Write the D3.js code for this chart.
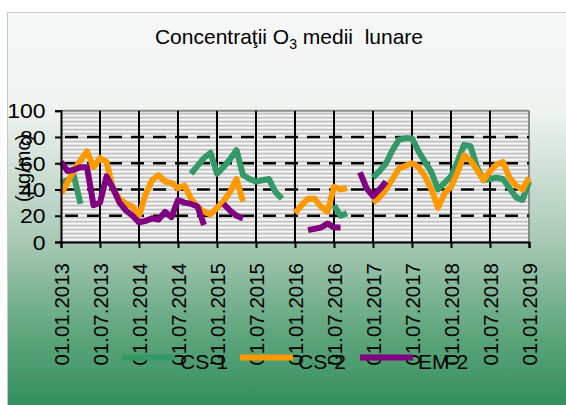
<!DOCTYPE html>
<html><head><meta charset="utf-8">
<script src="https://cdn.jsdelivr.net/npm/d3@7/dist/d3.min.js"></script>
<style>
html,body{margin:0;padding:0;background:#fff;}
svg{display:block;font-family:Arial,"Liberation Sans",sans-serif;}
</style></head>
<body>
<svg id="c" width="566" height="405"></svg>
<script>
// ---------------- data ----------------
const startMonth = new Date(2013, 0, 1);
const endMonth = new Date(2019, 0, 1);
const seriesNames = ["CS-1", "CS-2", "EM-2"];
const seriesColors = ["#339966", "#FF9900", "#800080"];
const _ = null;
// monthly values, Jan 2013 .. Jan 2019 (73 months)
const cs1 = [45,47,50,29,_,_,_,_,_,_,_,_,
             _,_,_,_,_,_,_,_,52,58,64,68,
             52,57,63,70,51,48,46,47,48,38,33,_,
             _,_,_,_,_,_,28,20,22,_,_,_,
             49,54,60,70,78,79,79,69,61,53,40,45,
             50,61,74,73,57,47,48,49,48,41,34,32,
             46];
const cs2 = [37,45,55,62,69,57,64,61,40,33,29,27,
             20,36,47,51,46,45,41,43,33,27,23,21,
             26,31,38,48,31,_,_,_,_,_,_,_,
             22,28,33,33,27,23,42,40,41,_,_,_,
             30,34,40,48,56,58,60,57,50,40,26,37,
             42,53,66,62,55,47,54,59,61,49,43,40,
             49];
const em2 = [61,54,55,57,57,28,30,50,41,30,24,20,
             15,16,18,17,23,19,32,30,29,27,13,_,
             _,29,24,20,18,_,_,_,_,_,_,_,
             _,_,9,10,11,14,11,11,_,_,53,41,
             35,40,46,_,_,_,_,_,_,_,_,_,
             _,_,_,_,_,_,_,_,_,_,_,_,
             _];
const yTicks = [0, 20, 40, 60, 80, 100];
const xTickLabels = ["01.01.2013","01.07.2013","01.01.2014","01.07.2014","01.01.2015","01.07.2015",
  "01.01.2016","01.07.2016","01.01.2017","01.07.2017","01.01.2018","01.07.2018","01.01.2019"];
const titleMain = "Concentraţii O";
const titleSub = "3";
const titleRest = " medii  lunare";
const yTitle = "(µg/mc)";

// ---------------- layout ----------------
const svg = d3.select("#c");
const months = d3.timeMonth.range(startMonth, d3.timeMonth.offset(endMonth, 1));
const fmt = d3.timeFormat("%d.%m.%Y");
const x = d3.scalePoint().domain(months.map(fmt)).range([61, 529]);
const y = d3.scaleLinear().domain([0, 100]).range([242, 110.7]);

const defs = svg.append("defs");
const bg = defs.append("linearGradient").attr("id","bg").attr("x1",0).attr("y1",0).attr("x2",0).attr("y2",1);
[["0%","#f7f8f8"],["25%","#eef3f0"],["57%","#a9c9b5"],["80%","#5fa67d"],["100%","#2f8d5a"]]
  .forEach(s => bg.append("stop").attr("offset", s[0]).attr("stop-color", s[1]));
const pat = defs.append("pattern").attr("id","stripes").attr("patternUnits","userSpaceOnUse")
  .attr("width",8).attr("height",4).attr("y",110.7);
pat.append("rect").attr("width",8).attr("height",4).attr("fill","#e2e2e2");
pat.append("rect").attr("width",8).attr("height",1.6).attr("fill","#ffffff");
pat.append("rect").attr("y",2.2).attr("width",8).attr("height",1.6).attr("fill","#bdbdbd");

// chart area
svg.append("rect").attr("x",7.5).attr("y",12.5).attr("width",570).attr("height",400)
  .attr("fill","url(#bg)").attr("stroke","#c8c8c8").attr("stroke-width",1);

// plot area
const [y0, y1] = y.range();
svg.append("rect").attr("x",61).attr("y",y1).attr("width",468).attr("height",y0-y1).attr("fill","url(#stripes)");
svg.append("line").attr("x1",61).attr("x2",529).attr("y1",y1).attr("y2",y1).attr("stroke","#8a8a8a").attr("stroke-width",2);
svg.append("line").attr("x1",529).attr("x2",529).attr("y1",y1).attr("y2",y0).attr("stroke","#8a8a8a").attr("stroke-width",2);

// gridlines
const xTickVals = xTickLabels;
svg.append("g").selectAll("line").data(xTickVals.slice(1, -1)).join("line")
  .attr("x1", d => x(d)).attr("x2", d => x(d)).attr("y1", y1).attr("y2", y0)
  .attr("stroke","#000").attr("stroke-width",2);
svg.append("g").selectAll("line").data(yTicks.filter(v => v > 0 && v < 100)).join("line")
  .attr("x1", 61).attr("x2", 529).attr("y1", d => y(d)).attr("y2", d => y(d))
  .attr("stroke","#000").attr("stroke-width",2.5).attr("stroke-dasharray","13,9").attr("stroke-dashoffset",-4);

// series
const line = d3.line().defined(d => d.v != null).x(d => x(d.k)).y(d => y(d.v)).curve(d3.curveLinear);
[cs1, cs2, em2].forEach((arr, i) => {
  const pts = arr.map((v, j) => ({k: fmt(months[j]), v}));
  svg.append("path").datum(pts).attr("d", line).attr("fill","none")
    .attr("stroke", seriesColors[i]).attr("stroke-width",6).attr("stroke-linejoin","round").attr("stroke-linecap","butt");
});

// axes
const yAxis = svg.append("g").attr("transform","translate(61,0)")
  .call(d3.axisLeft(y).tickValues(yTicks).tickSize(6).tickPadding(4));
yAxis.select(".domain").attr("stroke","#000").attr("stroke-width",2);
yAxis.selectAll(".tick line").attr("stroke","#000").attr("stroke-width",2);
yAxis.selectAll(".tick text").attr("font-size",20).attr("fill","#000").attr("font-family",null)
  .attr("transform","translate(-4,0) scale(1.15,1)").attr("dy","0.36em");

const xAxis = svg.append("g").attr("transform",`translate(0,${y0})`)
  .call(d3.axisBottom(x).tickValues(xTickVals).tickSize(6).tickFormat(d => d));
xAxis.select(".domain").attr("stroke","#000").attr("stroke-width",2);
xAxis.selectAll(".tick line").attr("stroke","#000").attr("stroke-width",2);
xAxis.selectAll(".tick text").attr("font-size",20.5).attr("fill","#000").attr("font-family",null)
  .attr("text-anchor","end").attr("dy","0.35em").attr("x",0).attr("y",0)
  .attr("transform","translate(0,21) rotate(-90)");

// y title
svg.append("text").attr("transform","translate(23,168) rotate(-90)").attr("text-anchor","middle")
  .attr("dy","0.35em").attr("font-size",20).attr("fill","#000").text(yTitle);

// title
const t = svg.append("text").attr("x",289).attr("y",44).attr("text-anchor","middle")
  .attr("font-size",21).attr("fill","#000").style("white-space","pre");
t.append("tspan").text(titleMain);
t.append("tspan").attr("font-size",14).attr("dy",5).text(titleSub);
t.append("tspan").attr("dy",-5).text(titleRest);

// legend
const legX = [122, 240, 360];
const lg = svg.append("g");
seriesNames.forEach((n, i) => {
  lg.append("line").attr("x1",legX[i]).attr("x2",legX[i]+53).attr("y1",357.5).attr("y2",357.5)
    .attr("stroke",seriesColors[i]).attr("stroke-width",6);
  lg.append("text").attr("x",legX[i]+58).attr("y",369).attr("font-size",21).attr("fill","#000").text(n);
});
</script>
</body></html>
